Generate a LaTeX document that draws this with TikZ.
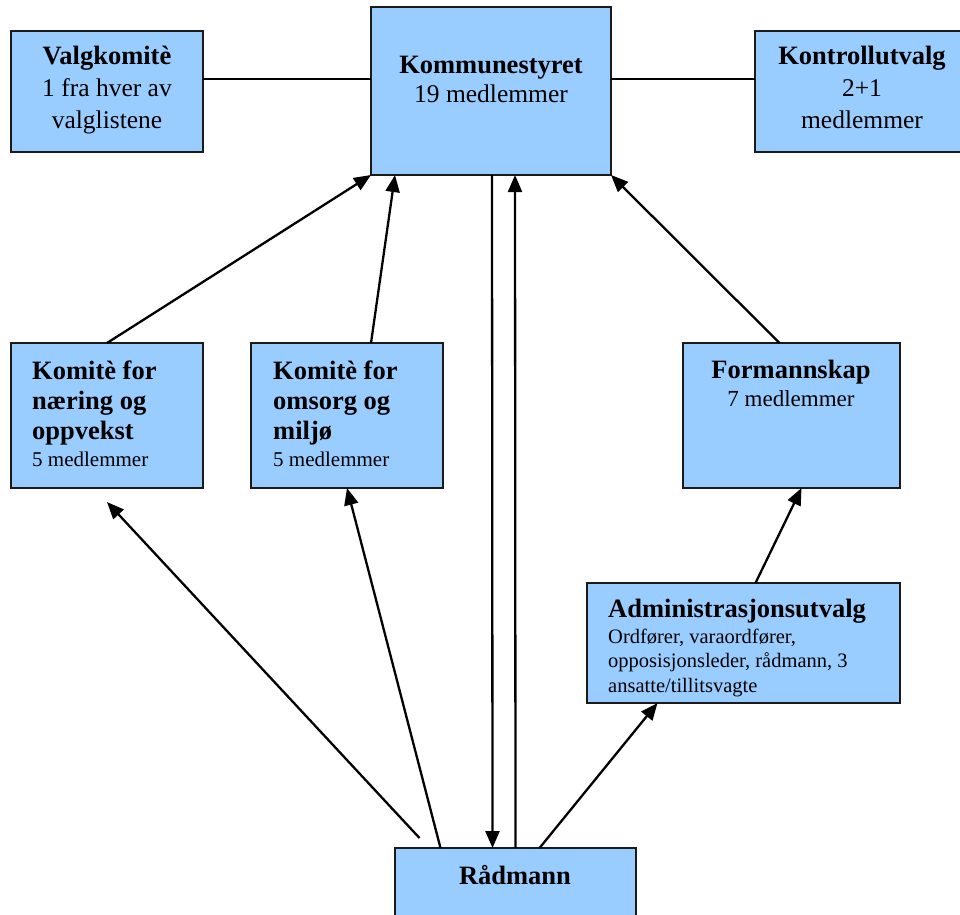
\documentclass[tikz,border=0pt]{standalone}
\usepackage{fontspec}
\setmainfont{Liberation Serif}
\usetikzlibrary{arrows.meta}
\definecolor{boxblue}{HTML}{99CCFF}
\definecolor{edge}{HTML}{1A1A1A}
\begin{document}
\begin{tikzpicture}[x=1pt,y=-1pt,
  box/.style={draw=edge, line width=1.6pt, fill=boxblue, anchor=north west, inner sep=0pt, outer sep=0pt},
  conn/.style={line width=2.3pt, draw=black},
  arr/.style={conn, -{Triangle[length=17pt,width=14pt]}},
  ttl/.style={font=\fontsize{26.5}{30}\selectfont\bfseries, inner sep=0pt, anchor=base},
  bodyL/.style={font=\fontsize{25.5}{31.5}\selectfont, inner sep=0pt, anchor=base, align=center},
  bodyS/.style={font=\fontsize{21}{25}\selectfont, inner sep=0pt, anchor=base west},
  bodyA/.style={font=\fontsize{20.5}{24.5}\selectfont, inner sep=0pt, anchor=base west, align=left},
]
\useasboundingbox (0,0) rectangle (960,914);

% boxes
\node[box, minimum width=192pt, minimum height=121pt] (vk) at (11,31) {};
\node[box, minimum width=240pt, minimum height=168pt] (ks) at (371,7) {};
\node[box, minimum width=215pt, minimum height=121pt] (ku) at (755,31) {};
\node[box, minimum width=192pt, minimum height=145pt] (nae) at (11,343) {};
\node[box, minimum width=192pt, minimum height=145pt] (om) at (251,343) {};
\node[box, minimum width=217pt, minimum height=145pt] (fm) at (683,343) {};
\node[box, minimum width=313pt, minimum height=120pt] (adm) at (587,583) {};
\node[box, minimum width=241pt, minimum height=90pt] (rad) at (395,848) {};

% texts (multi-line nodes are placed by the baseline of their last line)
\node[ttl] (vk-t) at (107,64) {Valgkomitè};
\node[bodyL] (vk-b) at (107,128) {1 fra hver av\\valglistene};
\node[ttl] (ks-t) at (491,73) {Kommunestyret};
\node[bodyL] (ks-b) at (491,102) {19 medlemmer};
\node[ttl] (ku-t) at (862,64) {Kontrollutvalg};
\node[bodyL] (ku-b) at (862,128) {2+1\\medlemmer};
\node[ttl, anchor=base west, align=left] (nae-t) at (32,439) {Komitè for\\næring og\\oppvekst};
\node[bodyS] (nae-b) at (32,466) {5 medlemmer};
\node[ttl, anchor=base west, align=left] (om-t) at (273,439) {Komitè for\\omsorg og\\miljø};
\node[bodyS] (om-b) at (273,466) {5 medlemmer};
\node[ttl] (fm-t) at (791,378) {Formannskap};
\node[font=\fontsize{23}{27}\selectfont, inner sep=0pt, anchor=base] (fm-b) at (791,406) {7 medlemmer};
\node[ttl, anchor=base west] (adm-t) at (608,617) {Administrasjonsutvalg};
\node[bodyA] (adm-b) at (608,692) {Ordfører, varaordfører,\\opposisjonsleder, rådmann, 3\\ansatte/tillitsvagte};
\node[ttl] (rad-t) at (515,884) {Rådmann};

% plain connectors
\draw[conn] ([yshift=12.5pt]vk.east) -- ([yshift=12.5pt]vk.east -| ks.west);
\draw[conn] ([yshift=12.5pt]ku.west -| ks.east) -- ([yshift=12.5pt]ku.west);

% arrows
\draw[arr] (nae.north) -- (ks.south west);
\draw[arr] ([xshift=24pt]om.north) -- ([xshift=24pt]ks.south west);
\draw[arr] ([xshift=1pt]ks.south) -- ([xshift=-23pt]rad.north);
\draw[arr] (rad.north) -- ([xshift=24pt]ks.south);
\draw[arr] ([xshift=-12pt]fm.north) -- (ks.south east);
\draw[arr] ([xshift=12pt]adm.north) -- ([xshift=10pt]fm.south);
\draw[arr] ([xshift=24pt]rad.north) -- ([xshift=-86pt]adm.south);
\draw[arr] ([xshift=-75pt]rad.north) -- (om.south);
\draw[arr] ([xshift=-96pt,yshift=10pt]rad.north) -- ([yshift=-14pt]nae.south);
\end{tikzpicture}
\end{document}
